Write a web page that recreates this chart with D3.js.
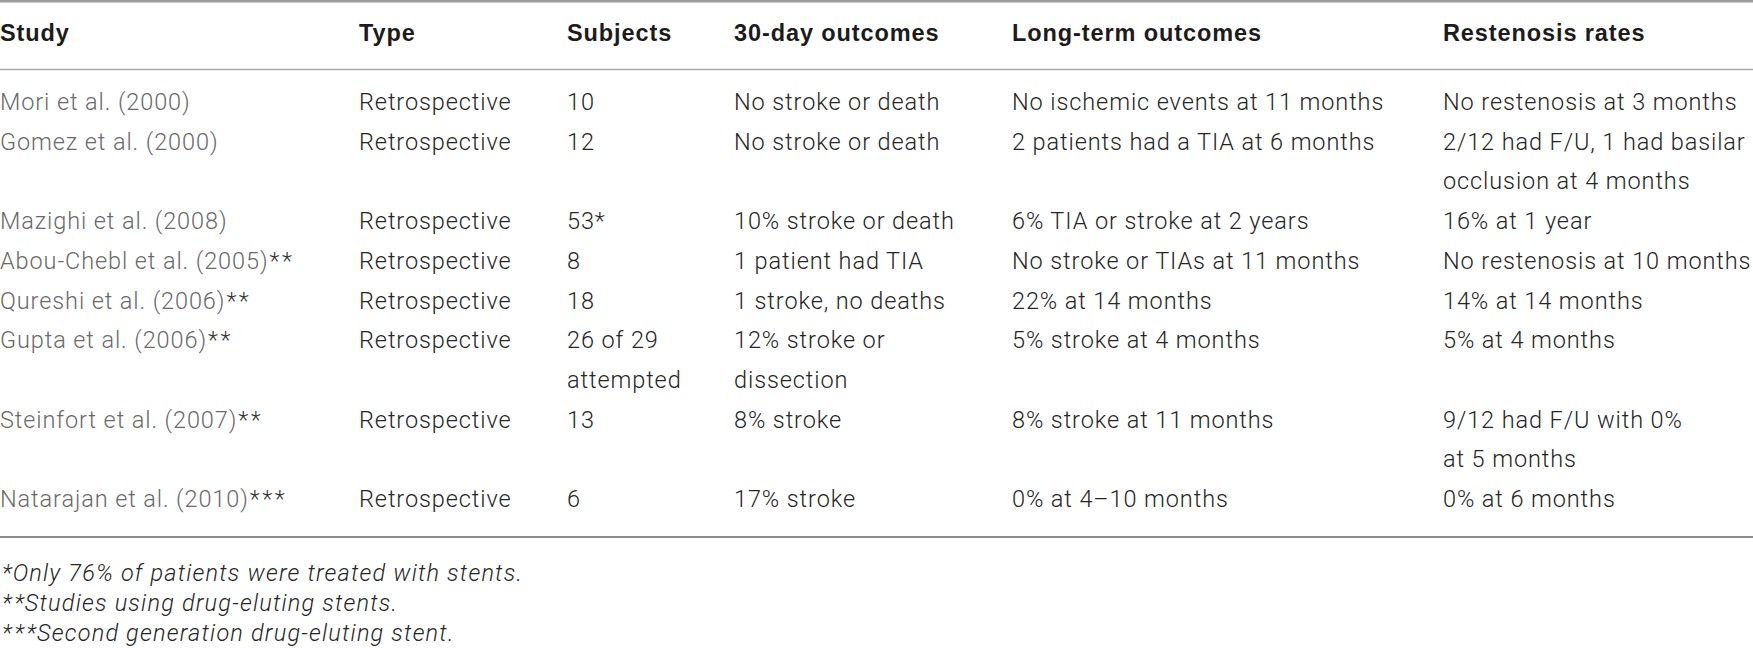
<!DOCTYPE html>
<html>
<head>
<meta charset="utf-8">
<script src="https://cdn.jsdelivr.net/npm/d3@7"></script>
<style>
  html, body { margin: 0; padding: 0; background: #fff; }
  svg { display: block; }
</style>
</head>
<body>
<svg id="chart" width="1753" height="648"></svg>
<script>
// ---------- data ----------
const headers = ["Study", "Type", "Subjects", "30-day outcomes", "Long-term outcomes", "Restenosis rates"];
const studies = ["Mori et al. (2000)", "Gomez et al. (2000)", "Mazighi et al. (2008)", "Abou-Chebl et al. (2005)",
                 "Qureshi et al. (2006)", "Gupta et al. (2006)", "Steinfort et al. (2007)", "Natarajan et al. (2010)"];
const studyMarks = ["", "", "", "**", "**", "**", "**", "***"];
const types = ["Retrospective", "Retrospective", "Retrospective", "Retrospective",
               "Retrospective", "Retrospective", "Retrospective", "Retrospective"];
const subjects = [["10"], ["12"], ["53*"], ["8"], ["18"], ["26 of 29", "attempted"], ["13"], ["6"]];
const outcomes30 = [["No stroke or death"], ["No stroke or death"], ["10% stroke or death"], ["1 patient had TIA"],
                    ["1 stroke, no deaths"], ["12% stroke or", "dissection"], ["8% stroke"], ["17% stroke"]];
const longTerm = [["No ischemic events at 11 months"], ["2 patients had a TIA at 6 months"], ["6% TIA or stroke at 2 years"],
                  ["No stroke or TIAs at 11 months"], ["22% at 14 months"], ["5% stroke at 4 months"],
                  ["8% stroke at 11 months"], ["0% at 4\u201310 months"]];
const restenosis = [["No restenosis at 3 months"], ["2/12 had F/U, 1 had basilar", "occlusion at 4 months"], ["16% at 1 year"],
                    ["No restenosis at 10 months"], ["14% at 14 months"], ["5% at 4 months"],
                    ["9/12 had F/U with 0%", "at 5 months"], ["0% at 6 months"]];
const footnoteMarks = ["*", "**", "***"];
const footnotes = ["Only 76% of patients were treated with stents.",
                   "Studies using drug-eluting stents.",
                   "Second generation drug-eluting stent."];

// ---------- layout ----------
const W = 1753, H = 648;
const colX = [0, 359, 567, 734, 1012, 1443];
const FONT = "Roboto, 'Liberation Sans', Arial, sans-serif";
const HFONT = "'Liberation Sans', Arial, Helvetica, sans-serif";
const svg = d3.select("#chart");

// line counts per row
const rowLines = studies.map((_, i) => Math.max(1, subjects[i].length, outcomes30[i].length, longTerm[i].length, restenosis[i].length));
const rowStart = [];
rowLines.reduce((acc, n, i) => { rowStart[i] = acc; return acc + n; }, 0);
const totalLines = d3.sum(rowLines);
const yLine = d3.scaleLinear().domain([0, totalLines - 1]).range([110, 507]);
const yFoot = d3.scaleLinear().domain([0, footnotes.length - 1]).range([581, 641]);

// rules
const rules = [{ y: 1.2, w: 2.6, c: "#9a9a9a" }, { y: 69.5, w: 1.6, c: "#a8a8a8" }, { y: 537, w: 2.2, c: "#8c8c8c" }];
svg.selectAll("line.rule").data(rules).join("line")
  .attr("class", "rule")
  .attr("x1", 0).attr("x2", W)
  .attr("y1", d => d.y).attr("y2", d => d.y)
  .attr("stroke", d => d.c).attr("stroke-width", d => d.w);

// headers
svg.selectAll("text.hdr").data(headers).join("text")
  .attr("class", "hdr")
  .attr("x", (d, i) => colX[i]).attr("y", 41)
  .attr("font-family", HFONT).attr("font-weight", 700).attr("font-size", 23.5)
  .attr("letter-spacing", 0.9)
  .attr("fill", "#1c1c1c")
  .text(d => d);

// body cells
const cells = [];
studies.forEach((s, i) => {
  cells.push({ col: 0, line: rowStart[i], text: s, mark: studyMarks[i], color: "#6a6a6a" });
  cells.push({ col: 1, line: rowStart[i], text: types[i], color: "#262626" });
  [subjects, outcomes30, longTerm, restenosis].forEach((arr, k) => {
    arr[i].forEach((t, j) => cells.push({ col: k + 2, line: rowStart[i] + j, text: t, color: "#262626" }));
  });
});

const body = svg.selectAll("text.cell").data(cells).join("text")
  .attr("class", "cell")
  .attr("x", d => colX[d.col]).attr("y", d => yLine(d.line))
  .attr("font-family", FONT).attr("font-weight", 300).attr("font-size", 23.5)
  .attr("letter-spacing", 0.9)
  .attr("fill", d => d.color);
body.append("tspan").text(d => d.text);
body.filter(d => d.mark).append("tspan")
  .attr("fill", "#333").attr("letter-spacing", 2.5).attr("dx", 1)
  .text(d => d.mark);

// footnotes
const foot = svg.selectAll("text.foot").data(footnotes).join("text")
  .attr("class", "foot")
  .attr("x", 0).attr("y", (d, i) => yFoot(i))
  .attr("font-family", FONT).attr("font-weight", 300).attr("font-style", "italic").attr("font-size", 23.5)
  .attr("letter-spacing", 1.2)
  .attr("fill", "#262626");
foot.append("tspan").attr("letter-spacing", 2.5).attr("dx", 2).text((d, i) => footnoteMarks[i]);
foot.append("tspan").attr("dx", -1.5).text(d => d);
</script>
</body>
</html>
